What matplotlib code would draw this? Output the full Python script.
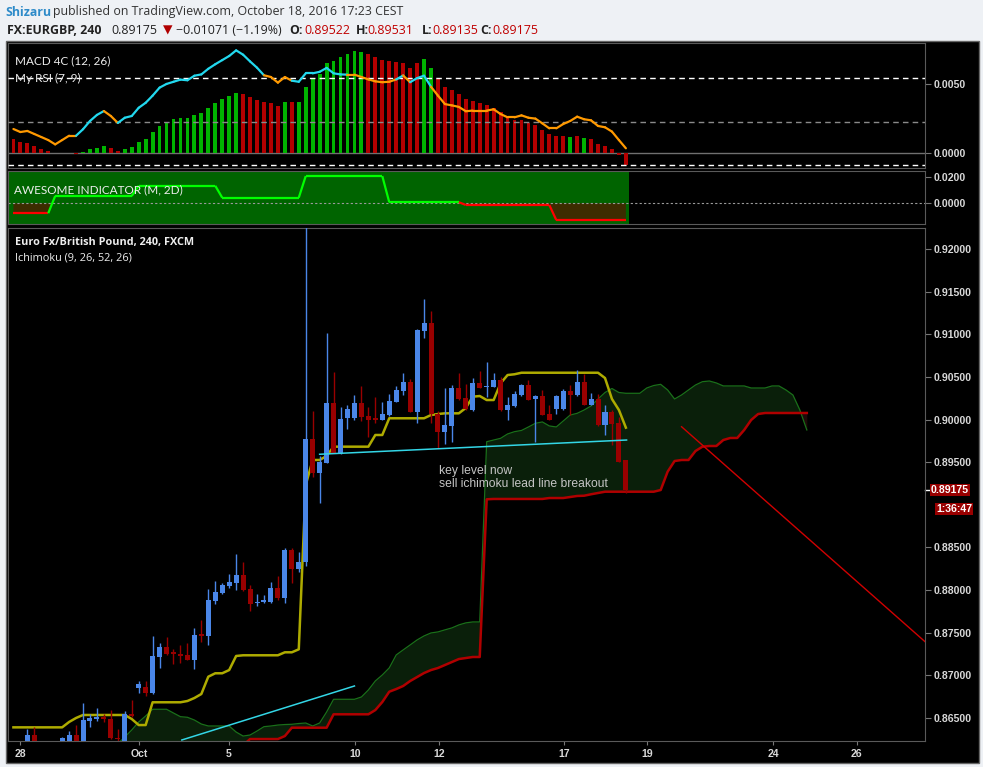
import numpy as np
import matplotlib
matplotlib.use('Agg')
import matplotlib.pyplot as plt
import matplotlib.transforms as mtransforms
from matplotlib.patches import Rectangle

# ---- data (4h bars, index 0 = first bar on screen) ----
opens = [0.8614, 0.8617, 0.8618, 0.86301, 0.8618, 0.8615, 0.8617, 0.8615, 0.8621, 0.86301,
         0.8617, 0.86469, 0.86485, 0.86508, 0.86489, 0.86268, 0.8618, 0.86547, 0.86856, 0.86860,
         0.86797, 0.87219, 0.87333, 0.87270, 0.87251, 0.87239, 0.87181, 0.87480, 0.87462, 0.87876,
         0.87970, 0.88052, 0.88087, 0.88177, 0.88013, 0.87845, 0.87857, 0.87861, 0.88025, 0.87911,
         0.88470, 0.88248, 0.88330, 0.89772, 0.89377, 0.89494, 0.90194, 0.89604, 0.90022, 0.90022,
         0.90194, 0.90042, 0.90015, 0.89995, 0.90049, 0.90210, 0.90339, 0.90440, 0.90092, 0.91041,
         0.91132, 0.90065, 0.89858, 0.89928, 0.90370, 0.90253, 0.90112, 0.90429, 0.90386, 0.90386,
         0.90464, 0.90112, 0.90159, 0.90288, 0.90405, 0.90237, 0.90276, 0.90065, 0.90120, 0.90120,
         0.90335, 0.90288, 0.90440, 0.90171, 0.90241, 0.89936, 0.90089, 0.89960, 0.89522]
highs = [0.8619, 0.8620, 0.86372, 0.86395, 0.8621, 0.8620, 0.8621, 0.86279, 0.86348, 0.86418,
         0.86673, 0.86544, 0.86618, 0.86544, 0.86594, 0.86368, 0.86582, 0.86711, 0.86934, 0.86934,
         0.87462, 0.87376, 0.87454, 0.87310, 0.87356, 0.87384, 0.87560, 0.87650, 0.88013, 0.88107,
         0.88083, 0.88189, 0.88424, 0.88330, 0.88060, 0.87954, 0.87943, 0.88095, 0.88166, 0.88494,
         0.88494, 0.88447, 0.93500, 0.90100, 0.89576, 0.91019, 0.90561, 0.90151, 0.90171, 0.90288,
         0.90393, 0.90147, 0.90265, 0.90206, 0.90300, 0.90394, 0.90546, 0.90476, 0.91060, 0.91414,
         0.91273, 0.90104, 0.90370, 0.90405, 0.90542, 0.90414, 0.90484, 0.90569, 0.90671, 0.90542,
         0.90503, 0.90268, 0.90339, 0.90415, 0.90464, 0.90288, 0.90347, 0.90171, 0.90290, 0.90355,
         0.90405, 0.90581, 0.90531, 0.90315, 0.90304, 0.90171, 0.90112, 0.90034, 0.89531]
lows = [0.8610, 0.8612, 0.8616, 0.8614, 0.8612, 0.8611, 0.8613, 0.8613, 0.8619, 0.8614,
        0.8615, 0.86399, 0.86469, 0.86457, 0.86250, 0.8621, 0.8616, 0.86515, 0.86797, 0.86762,
        0.86782, 0.87090, 0.87240, 0.87130, 0.87151, 0.87180, 0.87079, 0.87395, 0.87356, 0.87837,
        0.87960, 0.88028, 0.88001, 0.87995, 0.87759, 0.87817, 0.87853, 0.87845, 0.87884, 0.87853,
        0.88087, 0.88212, 0.88283, 0.89330, 0.89025, 0.89494, 0.89604, 0.89600, 0.89886, 0.89995,
        0.89987, 0.89799, 0.89956, 0.89990, 0.90040, 0.90200, 0.90288, 0.90085, 0.89963, 0.90960,
        0.89956, 0.89670, 0.89713, 0.89740, 0.90235, 0.90115, 0.90105, 0.90370, 0.90268, 0.90380,
        0.90105, 0.89995, 0.90150, 0.90280, 0.90225, 0.89740, 0.90050, 0.89990, 0.90063, 0.90115,
        0.90054, 0.90280, 0.90165, 0.90165, 0.89930, 0.89819, 0.89702, 0.89500, 0.89135]
closes = [0.8617, 0.8615, 0.86301, 0.8618, 0.8615, 0.8617, 0.8614, 0.86268, 0.86301, 0.8617,
          0.86477, 0.86497, 0.86508, 0.86485, 0.86262, 0.86250, 0.86547, 0.86520, 0.86899, 0.86797,
          0.87227, 0.87333, 0.87254, 0.87250, 0.87230, 0.87185, 0.87474, 0.87462, 0.87884, 0.87981,
          0.88060, 0.88095, 0.88177, 0.88001, 0.87841, 0.87864, 0.87880, 0.88025, 0.87911, 0.88470,
          0.88248, 0.88330, 0.89772, 0.89377, 0.89503, 0.90194, 0.89604, 0.90007, 0.90124, 0.90194,
          0.90030, 0.89995, 0.90000, 0.90065, 0.90218, 0.90347, 0.90440, 0.90092, 0.91050, 0.91132,
          0.90065, 0.89858, 0.89936, 0.90370, 0.90241, 0.90120, 0.90429, 0.90374, 0.90394, 0.90464,
          0.90112, 0.90167, 0.90300, 0.90405, 0.90229, 0.90276, 0.90054, 0.89995, 0.90276, 0.90335,
          0.90288, 0.90440, 0.90171, 0.90241, 0.89936, 0.90089, 0.89948, 0.89506, 0.89175]

# ichimoku base line (yellow)
base_line = [0.86391] * 8 + [0.86454, 0.86501] + [0.86536] * 7 + [0.86489, 0.86418, 0.86418] \
    + [0.86685] * 5 + [0.86700, 0.86735, 0.86782, 0.86985, 0.87025, 0.87025, 0.87063, 0.87228] \
    + [0.87236] * 6 + [0.87271, 0.87271, 0.87306, 0.89233, 0.89526, 0.89526, 0.89573] \
    + [0.89682] * 6 + [0.89819, 0.89819] + [0.90015] * 6 + [0.90053, 0.90065, 0.90073, 0.90073, 0.90073,
    0.90136, 0.90268, 0.90276, 0.90229, 0.90229, 0.90425, 0.90522, 0.90531] + [0.90549] * 12 \
    + [0.90487, 0.90241, 0.90112, 0.89905]

# cloud, shifted 26 bars ahead
lead_a = [0.8616] * 15 + [0.8620, 0.86278, 0.86360, 0.86454, 0.86524, 0.86603, 0.86603, 0.86603,
          0.86559, 0.86516, 0.86509, 0.86477, 0.86430, 0.86407, 0.86407, 0.86407, 0.86407, 0.86336,
          0.86289, 0.86301, 0.86348, 0.86399, 0.86407, 0.86418, 0.86424, 0.86427, 0.86436, 0.86442,
          0.86407, 0.86442, 0.86571, 0.86720, 0.86720, 0.86720, 0.86720, 0.86747, 0.86829, 0.86935,
          0.87005, 0.87088, 0.87240, 0.87299, 0.87357, 0.87416, 0.87463, 0.87498, 0.87510, 0.87534,
          0.87557, 0.87592, 0.87616, 0.87627, 0.87627, 0.89740, 0.89760, 0.89780, 0.89831, 0.89858,
          0.89872, 0.89913, 0.89956, 0.89972, 0.89925, 0.89913, 0.89983, 0.90053, 0.90073, 0.90112,
          0.90159, 0.90241, 0.90317, 0.90364, 0.90317, 0.90308, 0.90308, 0.90308, 0.90370, 0.90399,
          0.90413, 0.90347, 0.90241, 0.90288, 0.90347, 0.90405, 0.90444, 0.90452, 0.90429, 0.90394,
          0.90394, 0.90394, 0.90394, 0.90370, 0.90370, 0.90370, 0.90394, 0.90394, 0.90347, 0.90288,
          0.90112, 0.89878]
lead_b = [0.8616] * 33 + [0.8618] + [0.86254] * 5 + [0.86289] + [0.86387] * 6 + [0.86544] * 6 \
    + [0.86594, 0.86688, 0.86809, 0.86840, 0.86876, 0.86934, 0.86981, 0.87028, 0.87063, 0.87087,
       0.87122, 0.87157, 0.87192, 0.87204, 0.87216, 0.87216, 0.89065] + [0.89069] * 8 \
    + [0.89080] * 3 + [0.89092, 0.89104, 0.89107, 0.89124, 0.89139] + [0.89154] * 8 \
    + [0.89174, 0.89389, 0.89514, 0.89526, 0.89526, 0.89631, 0.89682, 0.89690, 0.89690, 0.89760,
       0.89784, 0.89784, 0.89878, 0.89995, 0.90065] + [0.90077] * 7

# MACD 4C histogram
macd_hist = [0.00104, 0.00082, 0.00072, 0.00053, 0.00031, 0.00017, 0.00005, 0.00002, 0.00001, -0.00005,
             0.00010, 0.00031, 0.00041, 0.00053, 0.00039, 0.00017, 0.00031, 0.00046, 0.00082, 0.00104,
             0.00155, 0.00198, 0.00229, 0.00249, 0.00256, 0.00256, 0.00278, 0.00292, 0.00328, 0.00365,
             0.00394, 0.00415, 0.00437, 0.00430, 0.00408, 0.00386, 0.00372, 0.00365, 0.00343, 0.00372,
             0.00370, 0.00374, 0.00481, 0.00539, 0.00575, 0.00654, 0.00669, 0.00698, 0.00720, 0.00741,
             0.00734, 0.00720, 0.00698, 0.00676, 0.00669, 0.00662, 0.00654, 0.00618, 0.00654, 0.00683,
             0.00618, 0.00539, 0.00481, 0.00459, 0.00430, 0.00394, 0.00376, 0.00365, 0.00350, 0.00330,
             0.00299, 0.00263, 0.00242, 0.00240, 0.00220, 0.00205, 0.00169, 0.00140, 0.00126, 0.00127,
             0.00118, 0.00126, 0.00111, 0.00104, 0.00068, 0.00053, 0.00031, -0.00012, -0.00085]
macd_col = 'rrrrrrrrrr' + 'gggg' + 'rr' + 'g' * 17 + 'rrrrrr' + 'grgggggggggg' + 'r' * 8 + 'gg' \
    + 'r' * 19 + 'grgr' + 'r' * 6

# My RSI (7, 9)
rsi = [46.6, 45.2, 45.7, 44.3, 42.9, 41.5, 39.5, 41.5, 43.5, 43.5,
       46.5, 50.3, 53.1, 54.9, 52.6, 49.4, 51.8, 52.6, 56.4, 58.7,
       62.0, 65.7, 67.4, 68.4, 69.4, 69.1, 71.2, 71.8, 74.4, 76.5,
       78.4, 80.3, 82.9, 80.9, 77.8, 74.9, 71.4, 70.6, 68.0, 70.6,
       68.9, 68.4, 72.3, 72.3, 73.0, 74.8, 72.3, 71.8, 71.7, 71.7,
       70.6, 69.5, 68.6, 68.2, 68.4, 69.5, 71.3, 68.2, 70.1, 71.2,
       66.1, 62.0, 58.1, 57.5, 56.8, 54.8, 55.1, 55.1, 55.1, 55.7,
       53.5, 52.0, 52.0, 52.9, 51.8, 51.4, 49.2, 46.9, 46.9, 48.9,
       50.3, 52.3, 51.1, 50.6, 48.0, 47.4, 45.4, 41.5, 37.7]
rsi_col = 'o' * 10 + 'cccc' + 'oo' + 'c' * 21 + 'oooo' + 'c' * 8 + 'o' * 7 + 'coccc' + 'o' * 29

# Awesome indicator (M, 2D)
ao = [-0.0075] * 6 + [0.0055] * 12 + [0.0132] * 12 + [0.0042] * 12 + [0.0205] * 12 \
    + [0.0008] * 11 + [-0.0013] * 13 + [-0.0126] * 11

# drawings: (x0, y0, x1, y1) in bar index / price
cyan_lines = [(44.0, 0.89593, 88.1, 0.89760), (24.2, 0.86243, 49.0, 0.86876)]
red_line = (96.0, 0.89916, 131.2, 0.87380)

date_pos = [0.95, 18.05, 30.98, 49.15, 61.15, 79.1, 91.1, 109.2, 121.2]
date_lbl = ['28', 'Oct', '5', '10', '12', '17', '19', '24', '26']
# 0.89000 sits under the countdown box in the original, so it is left out
price_ticks = [0.865, 0.870, 0.875, 0.880, 0.885, 0.895, 0.900, 0.905, 0.910, 0.915, 0.920]
last_price = 0.89175

# ---- layout helpers (pixels of the 983x767 picture) ----
W, H = 983, 767
fig = plt.figure(figsize=(W / 100, H / 100), dpi=100, facecolor='#eef1f5')

def fx(x):
    return x / W

def fy(y):
    return 1 - y / H

def box(x0, y0, x1, y1):
    return [fx(x0), fy(y1), fx(x1) - fx(x0), fy(y0) - fy(y1)]

# black chart frame behind everything
bg = fig.add_axes([0, 0, 1, 1], zorder=-10)
bg.axis('off')
bg.set_xlim(0, W)
bg.set_ylim(H, 0)
bg.add_patch(Rectangle((6, 41), 973, 722, facecolor='black', edgecolor='#666', lw=1))

BLUE = '#4a86e8'
RED = '#990000'
AX_TXT = '#d8d8d8'
LBL = dict(family=['Liberation Sans', 'DejaVu Sans'], weight='bold', size=7.6)
XLIM = (-0.78, 130.98)

ax_m = fig.add_axes(box(8, 43, 925, 168))
ax_a = fig.add_axes(box(8, 171, 925, 224))
ax_p = fig.add_axes(box(8, 228, 925, 741))
for ax in (ax_m, ax_a, ax_p):
    ax.set_facecolor('black')
    ax.set_xlim(*XLIM)
    for s in ax.spines.values():
        s.set_color('#5a5a5a')
    ax.yaxis.tick_right()
    ax.tick_params(axis='y', color='#777', length=4, pad=2.5, labelcolor=AX_TXT)
    ax.tick_params(axis='x', bottom=False, labelbottom=False)

# ---- MACD + RSI pane ----
n = len(macd_hist)
idx = np.arange(n)
ax_m.set_ylim(-0.00107, 0.00799)
ax_m.axhline(0, color='#707070', lw=1, zorder=1)
ax_m.bar(idx, macd_hist, width=0.55, color=['#00b400' if c == 'g' else '#b40000' for c in macd_col],
         zorder=2, linewidth=0)
ax_m.set_yticks([0.0, 0.005])
ax_m.set_yticklabels(['0.0000', '0.0050'], **LBL)

ax_r = fig.add_axes(box(8, 43, 925, 168), sharex=ax_m)
ax_r.patch.set_visible(False)
ax_r.axis('off')
ax_r.set_ylim(28.6, 86.3)
ax_r.axhline(70, color='white', lw=1, ls=(0, (4, 3)))
ax_r.axhline(50, color='#8a8a8a', lw=1, ls=(0, (4, 3)))
ax_r.axhline(30, color='white', lw=1, ls=(0, (4, 3)))
for i in range(1, len(rsi)):
    c = '#22d8ee' if rsi_col[i] == 'c' else '#ff9900'
    ax_r.plot([i - 1, i], [rsi[i - 1], rsi[i]], color=c, lw=1.6, solid_capstyle='round')

fig.text(fx(15), fy(61), 'MACD 4C (12, 26)', color='#eeeeee', fontsize=8.5, family='Lato', va='center')
fig.text(fx(15), fy(78), 'My RSI (7, 9)', color='#eeeeee', fontsize=8.5, family='Lato', va='center')

# ---- Awesome indicator pane ----
ao = np.array(ao)
ax_a.set_ylim(-0.0156, 0.0243)
ax_a.axvspan(XLIM[0], len(ao) - 0.5, color='#006400', lw=0, zorder=0)
ax_a.fill_between(np.arange(len(ao)), 0, ao, where=ao < 0, interpolate=True, color='#3d2c00',
                  lw=0, zorder=1)
ax_a.axhline(0, color='#9a9a9a', lw=0.8, ls=(0, (2, 2)), zorder=2)
for i in range(1, len(ao)):
    c = '#00ff00' if ao[i] >= 0 else '#ff0000'
    ax_a.plot([i - 1, i], [ao[i - 1], ao[i]], color=c, lw=1.6, zorder=3, solid_capstyle='butt')
ax_a.set_yticks([0.0, 0.02])
ax_a.set_yticklabels(['0.0000', '0.0200'], **LBL)
fig.text(fx(14), fy(190), 'AWESOME INDICATOR (M, 2D)', color='#eeeeee', fontsize=8.5,
         family='Lato', va='center')

# ---- price pane ----
ax_p.set_ylim(0.86231, 0.92246)
ci = np.arange(len(lead_a))
la = np.array(lead_a)
lb = np.array(lead_b)
ax_p.fill_between(ci, la, lb, where=la >= lb, interpolate=True, color='#0a1f0a', lw=0, zorder=1)
ax_p.fill_between(ci, la, lb, where=la < lb, interpolate=True, color='#1f0a0a', lw=0, zorder=1)
ax_p.plot(ci, la, color='#1a701a', lw=0.9, zorder=2)
ax_p.plot(ci, lb, color='#b00000', lw=1.8, zorder=2)
ax_p.plot(idx, base_line, color='#aeab00', lw=1.8, zorder=3)

o = np.array(opens)
c = np.array(closes)
colors = np.where(c >= o, BLUE, RED)
ax_p.vlines(idx, lows, highs, colors=colors, lw=1, zorder=4)
ax_p.bar(idx, np.maximum(np.abs(c - o), 0.00004), bottom=np.minimum(o, c), width=0.72,
         color=colors, lw=0, zorder=5)

for x0, y0, x1, y1 in cyan_lines:
    ax_p.plot([x0, x1], [y0, y1], color='#33d6e6', lw=1.1, zorder=6)
ax_p.plot([red_line[0], red_line[2]], [red_line[1], red_line[3]], color='#d00000', lw=1, zorder=6)

ax_p.text(61.1, 0.89397, 'key level now', color='#c4c4c4', fontsize=8.7,
          family='Liberation Sans', va='center', zorder=7)
ax_p.text(61.1, 0.89244, 'sell ichimoku lead line breakout', color='#c4c4c4', fontsize=8.7,
          family='Liberation Sans', va='center', zorder=7)

ax_p.set_yticks(price_ticks)
ax_p.set_yticklabels(['%.5f' % t for t in price_ticks], **LBL)
ax_p.set_xticks(date_pos)
ax_p.set_xticklabels(date_lbl, color=AX_TXT, **LBL)
ax_p.tick_params(axis='x', bottom=True, labelbottom=True, color='#777', length=3, pad=3)

tr = mtransforms.blended_transform_factory(ax_p.transAxes, ax_p.transData)
ax_p.plot([1.0, 1.0 + 5 / 917], [last_price, last_price], color='white', lw=1,
          transform=tr, clip_on=False)
ax_p.text(1.0 + 6 / 917, last_price, '%.5f' % last_price, transform=tr, color='white', va='center',
          ha='left', bbox=dict(boxstyle='square,pad=0.12', fc=RED, ec='none'), **LBL)
fig.text(fx(936), fy(509), '1:36:47', color='white', va='center', ha='left',
         bbox=dict(boxstyle='square,pad=0.12', fc=RED, ec='none'), **LBL)

fig.text(fx(15), fy(242), 'Euro Fx/British Pound, 240, FXCM', color='#eeeeee', fontsize=7.8,
         family='Open Sans', weight='bold', va='center')
fig.text(fx(15), fy(258), 'Ichimoku (9, 26, 52, 26)', color='#eeeeee', fontsize=7.8,
         family='Open Sans', va='center')

# ---- header ----
HF = ['Open Sans', 'DejaVu Sans']
fig.text(fx(5), fy(12), 'Shizaru', color='#2e8bc9', fontsize=8.9, family=HF, weight='bold', va='center')
fig.text(fx(53), fy(12), 'published on TradingView.com, October 18, 2016 17:23 CEST', color='#333333',
         fontsize=8.9, family=HF, va='center')
pieces = [(7, 'FX:EURGBP, 240', 'bold', '#222222'), (111.7, '0.89175', 'normal', '#222222'),
          (162.7, '▼', 'normal', '#b00000'), (175.7, '\u22120.01071 (\u22121.19%)', 'normal', '#222222'),
          (289.3, 'O:', 'bold', '#222222'), (304.3, '0.89522', 'normal', '#c00000'),
          (356, 'H:', 'bold', '#222222'), (367.7, '0.89531', 'normal', '#c00000'),
          (421.7, 'L:', 'bold', '#222222'), (432, '0.89135', 'normal', '#c00000'),
          (480, 'C:', 'bold', '#222222'), (492.7, '0.89175', 'normal', '#c00000')]
for x, s, w, col in pieces:
    fig.text(fx(x), fy(30), s, color=col, fontsize=8.9, family=HF, weight=w, va='center')

plt.savefig('out.png', dpi=100, facecolor=fig.get_facecolor())
